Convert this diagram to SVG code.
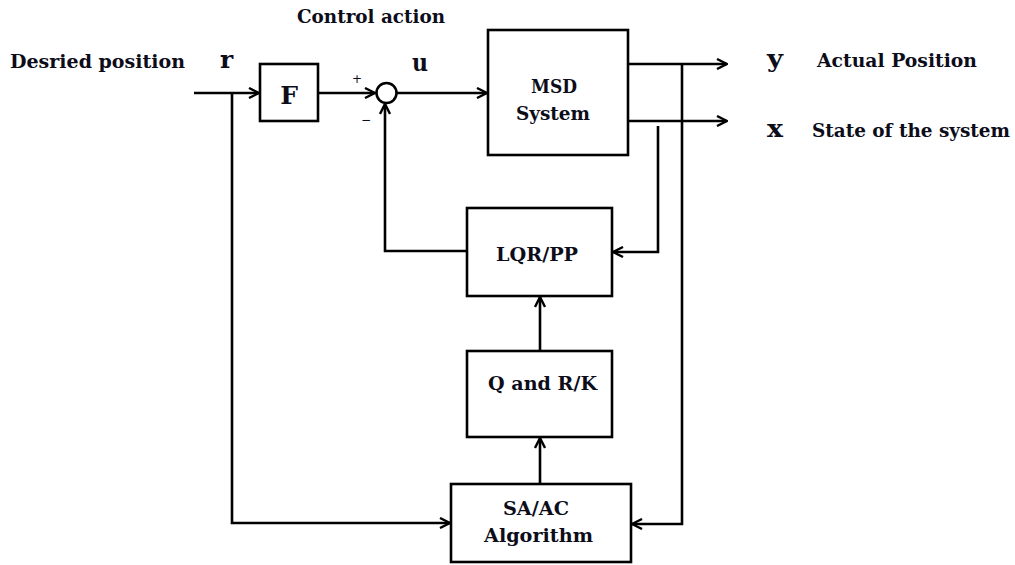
<svg xmlns="http://www.w3.org/2000/svg" width="1015" height="565" viewBox="0 0 1015 565">
<style>
.box{fill:#fff;stroke:#000;stroke-width:2.6}
.ln{fill:none;stroke:#000;stroke-width:2.6}
.t{font-family:"DejaVu Serif","Liberation Serif",serif;font-weight:bold;font-size:18px;fill:#0d0d1a}
.big{font-size:25px}
.sm{font-family:"DejaVu Sans","Liberation Sans",sans-serif;font-size:12px;fill:#0d0d1a}
</style>
<defs>
<marker id="arr" viewBox="0 0 12 12" refX="11" refY="6" markerWidth="12" markerHeight="12" markerUnits="userSpaceOnUse" orient="auto">
<path d="M1,1 L11,6 L1,11" fill="none" stroke="#000" stroke-width="2.4"/>
</marker>
</defs>
<rect width="1015" height="565" fill="#fff"/>
<g id="connectors">
<path class="ln" d="M194,93 H259" marker-end="url(#arr)"/>
<path class="ln" d="M232,93 V523 H450" marker-end="url(#arr)"/>
<path class="ln" d="M318,93 H375" marker-end="url(#arr)"/>
<path class="ln" d="M397,93 H487" marker-end="url(#arr)"/>
<path class="ln" d="M628,64 H727" marker-end="url(#arr)"/>
<path class="ln" d="M628,121 H727" marker-end="url(#arr)"/>
<path class="ln" d="M682,64 V524 H632" marker-end="url(#arr)"/>
<path class="ln" d="M658,126 V252 H613" marker-end="url(#arr)"/>
<path class="ln" d="M467,251 H385 V104" marker-end="url(#arr)"/>
<path class="ln" d="M540,351 V297" marker-end="url(#arr)"/>
<path class="ln" d="M540,484 V438" marker-end="url(#arr)"/>
</g>
<g id="labels">
<text class="t" x="297" y="23" textLength="148" lengthAdjust="spacingAndGlyphs">Control action</text>
<text class="t" x="10" y="68" textLength="175" lengthAdjust="spacingAndGlyphs">Desried position</text>
<text class="t big" x="220" y="68">r</text>
<text class="t big" x="412" y="71" textLength="16" lengthAdjust="spacingAndGlyphs">u</text>
<text class="sm" x="357" y="83" text-anchor="middle">+</text>
<text class="sm" x="366" y="124" text-anchor="middle">−</text>
<text class="t big" x="767" y="67" textLength="16" lengthAdjust="spacingAndGlyphs">y</text>
<text class="t" x="817" y="67" textLength="160" lengthAdjust="spacingAndGlyphs">Actual Position</text>
<text class="t big" x="767" y="137" textLength="16" lengthAdjust="spacingAndGlyphs">x</text>
<text class="t" x="812" y="137" textLength="198" lengthAdjust="spacingAndGlyphs">State of the system</text>
</g>
<g id="F">
<rect class="box" x="260" y="64" width="58" height="57"/>
<text class="t big" x="289" y="104" text-anchor="middle">F</text>
</g>
<g id="sum">
<circle class="box" cx="386.5" cy="93" r="10"/>
</g>
<g id="MSD">
<rect class="box" x="488" y="30" width="140" height="125"/>
<text class="t" x="554" y="93" text-anchor="middle" font-size="17" textLength="46" lengthAdjust="spacingAndGlyphs">MSD</text>
<text class="t" x="553" y="120" text-anchor="middle" font-size="17" textLength="74" lengthAdjust="spacingAndGlyphs">System</text>
</g>
<g id="LQR">
<rect class="box" x="467" y="208" width="145" height="88"/>
<text class="t" x="537" y="261" text-anchor="middle" textLength="82" lengthAdjust="spacingAndGlyphs">LQR/PP</text>
</g>
<g id="QR">
<rect class="box" x="467" y="351" width="145" height="86"/>
<text class="t" x="488" y="390" textLength="109" lengthAdjust="spacingAndGlyphs">Q and R/K</text>
</g>
<g id="SA">
<rect class="box" x="451" y="484" width="180" height="78"/>
<text class="t" x="536" y="515" text-anchor="middle" textLength="66" lengthAdjust="spacingAndGlyphs">SA/AC</text>
<text class="t" x="484" y="542" textLength="109" lengthAdjust="spacingAndGlyphs">Algorithm</text>
</g>
</svg>
